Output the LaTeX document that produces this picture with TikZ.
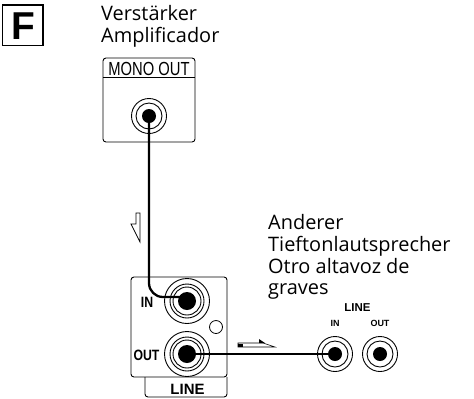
\documentclass[tikz,border=0pt]{standalone}
\usepackage{fontspec}
\setmainfont{Open Sans}
\newfontfamily\labelfont{Liberation Sans}
\tikzset{
  ring/.style={circle,draw=black,line width=0.9pt,fill=white,inner sep=0pt,minimum size=#1},
  dot/.style={circle,fill=black,inner sep=0pt,minimum size=#1},
  panel/.style={draw=black,line width=0.9pt,rounded corners=3pt},
  wire/.style={draw=black,line width=2.3pt,rounded corners=14pt},
  body/.style={font=\fontsize{20}{21.7}\selectfont,anchor=base west,inner sep=0pt},
  caption/.style={font=\labelfont\bfseries\fontsize{#1}{#1}\selectfont,inner sep=0pt,anchor=base},
}
\begin{document}
\begin{tikzpicture}[x=1bp,y=-1bp]
\useasboundingbox (0,0) rectangle (474,398);
\fill[white] (0,0) rectangle (474,398);
% F box
\draw[line width=1.4pt] (2.5,5) rectangle (43,45.5);
\node[inner sep=0pt,anchor=base,font=\labelfont\bfseries\fontsize{39}{39}\selectfont] (fl) at (23,39) {F};
% titles
\node[body] (t1) at (101,20.5) {Verstärker};
\node[body] (t2) at (101,42) {Amplificador};
% mono out panel
\draw[panel] (103,58) rectangle (195,142);
\draw[line width=0.9pt] (103,77) -- (195,77);
\node[inner sep=0pt,anchor=base,font=\labelfont\fontsize{19}{19}\selectfont,xscale=0.78] (mo) at (149,75) {MONO OUT};
\node[ring=35bp] (m1) at (149,116) {};
\node[ring=26bp] (m2) at (149,116) {};
\node[dot=14bp] (m3) at (149,116) {};
% line panel
\draw[panel] (145,377) -- (145,397) -- (227,397) -- (227,377);
\draw[panel] (131,277) rectangle (227,377);
\node[inner sep=0pt,anchor=base,font=\labelfont\bfseries\fontsize{15}{15}\selectfont] (li) at (187.5,394) {LINE};
\node[caption=15,xscale=0.82] (in) at (147,307) {IN};
\node[caption=15,xscale=0.82] (ou) at (146.5,360) {OUT};
\node[ring=45bp] (a1) at (187,301) {};
\node[ring=34bp] (a2) at (187,301) {};
\node[ring=28bp] (a3) at (187,301) {};
\node[dot=18bp] (a4) at (187,301) {};
\node[ring=45bp] (b1) at (187,354) {};
\node[ring=34bp] (b2) at (187,354) {};
\node[ring=28bp] (b3) at (187,354) {};
\node[dot=18bp] (b4) at (187,354) {};
\node[ring=13bp,line width=0.8pt] (led) at (216,327) {};
% right side text
\node[body] (r1) at (268,229) {Anderer};
\node[body] (r2) at (268,251) {Tieftonlautsprecher};
\node[body] (r3) at (268,273) {Otro altavoz de};
\node[body] (r4) at (268,294) {graves};
\node[caption=11.5] (r5) at (357.5,311) {LINE};
\node[caption=9] (r6) at (335,326) {IN};
\node[caption=9] (r7) at (380,326) {OUT};
\node[ring=35bp] (c1) at (335,354) {};
\node[ring=26bp] (c2) at (335,354) {};
\node[dot=14bp] (c3) at (335,354) {};
\node[ring=35bp] (d1) at (380,354) {};
\node[ring=26bp] (d2) at (380,354) {};
\node[dot=14bp] (d3) at (380,354) {};
% wires
\coordinate (bend) at (149,297);
\coordinate (wireend) at (180,297);
\draw[wire] (m3.center) -- (bend) -- (wireend);
\draw[line width=2.3pt] (b4.center) -- (c3.center);
% signal arrows
\draw[line width=0.7pt,line join=miter,fill=white] (136,213) -- (140,213) -- (140,242) -- (131,224) -- (136,224) -- cycle;
\draw[line width=0.6pt,fill=white] (238,343) -- (263,343) -- (275,347) -- (238,347) -- cycle;
\fill[black] (238,343.5) rectangle (243,347);
\fill[black] (259,339) -- (265,343) -- (259,343) -- cycle;
\end{tikzpicture}
\end{document}
